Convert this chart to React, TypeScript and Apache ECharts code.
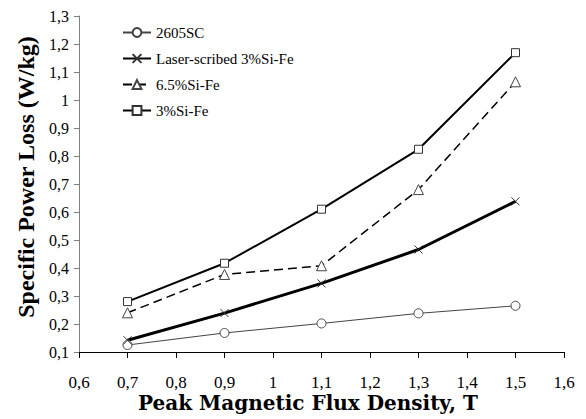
import React, { useEffect, useRef } from 'react';
import * as echarts from 'echarts';

const fluxDensity = [0.7, 0.9, 1.1, 1.3, 1.5];
const loss2605SC = [0.125, 0.168, 0.202, 0.238, 0.265];
const lossLaser = [0.142, 0.239, 0.345, 0.466, 0.638];
const loss65SiFe = [0.24, 0.377, 0.408, 0.68, 1.065];
const loss3SiFe = [0.28, 0.417, 0.61, 0.824, 1.169];
const seriesNames = ['2605SC', 'Laser-scribed 3%Si-Fe', '6.5%Si-Fe', '3%Si-Fe'];
const xTitle = 'Peak Magnetic Flux Density, T';
const yTitle = 'Specific Power Loss (W/kg)';

const fmt = (v: number) => String(Math.round(v * 10) / 10).replace('.', ',');
const pairs = (ys: number[]) => fluxDensity.map((x, i) => [x, ys[i]]);

export default function App() {
  const ref = useRef<HTMLDivElement>(null);
  useEffect(() => {
    if (!ref.current) return;
    const chart = echarts.init(ref.current, undefined, { renderer: 'svg' });
    const serif = 'Liberation Serif';
    chart.setOption({
      animation: false,
      backgroundColor: '#fff',
      grid: { left: 79, top: 16, right: 22, bottom: 67, containLabel: false },
      legend: {
        orient: 'vertical',
        left: 117,
        top: 20,
        itemWidth: 28,
        itemHeight: 11,
        itemGap: 11,
        data: seriesNames,
        textStyle: { fontFamily: serif, fontSize: 15, color: '#000' },
      },
      xAxis: {
        type: 'value',
        min: 0.6,
        max: 1.6,
        interval: 0.1,
        splitLine: { show: false },
        axisLine: { lineStyle: { color: '#000', width: 1 } },
        axisTick: { length: 6, lineStyle: { color: '#000' } },
        axisLabel: {
          formatter: fmt,
          fontFamily: serif,
          fontSize: 17,
          color: '#000',
          margin: 22,
        },
      },
      yAxis: {
        type: 'value',
        min: 0.1,
        max: 1.3,
        interval: 0.1,
        splitLine: { show: false },
        axisLine: { show: true, lineStyle: { color: '#808080', width: 1 } },
        axisTick: { show: true, length: 5, lineStyle: { color: '#808080' } },
        axisLabel: {
          formatter: fmt,
          fontFamily: serif,
          fontSize: 16,
          color: '#000',
          margin: 10,
        },
      },
      graphic: [
        {
          type: 'text',
          x: 308,
          y: 403,
          style: {
            text: xTitle,
            font: "bold 20px 'DejaVu Serif', serif",
            fill: '#000',
            align: 'center',
            verticalAlign: 'middle',
          },
        },
        {
          type: 'text',
          x: 26,
          y: 177,
          rotation: Math.PI / 2,
          style: {
            text: yTitle,
            font: "bold 24px 'Liberation Serif', serif",
            fill: '#000',
            align: 'center',
            verticalAlign: 'middle',
          },
        },
      ],
      series: [
        {
          name: seriesNames[0],
          type: 'line',
          data: pairs(loss2605SC),
          symbol: 'circle',
          symbolSize: 9,
          lineStyle: { color: '#444', width: 1 },
          itemStyle: { color: '#fff', borderColor: '#444', borderWidth: 1 },
        },
        {
          name: seriesNames[1],
          type: 'line',
          data: pairs(lossLaser),
          symbol: 'path://M0,0L10,10M10,0L0,10',
          symbolSize: 8,
          lineStyle: { color: '#000', width: 3 },
          itemStyle: { color: '#fff', borderColor: '#333', borderWidth: 1 },
        },
        {
          name: seriesNames[2],
          type: 'line',
          data: pairs(loss65SiFe),
          symbol: 'triangle',
          symbolSize: 10,
          lineStyle: { color: '#000', width: 1.5, type: [9, 5] },
          itemStyle: { color: '#fff', borderColor: '#444', borderWidth: 1 },
        },
        {
          name: seriesNames[3],
          type: 'line',
          data: pairs(loss3SiFe),
          symbol: 'rect',
          symbolSize: 8,
          lineStyle: { color: '#000', width: 2 },
          itemStyle: { color: '#fff', borderColor: '#333', borderWidth: 1 },
        },
      ],
    });
    return () => chart.dispose();
  }, []);
  return (
    <div
      ref={ref}
      style={{ position: 'fixed', left: 0, top: 0, width: 586, height: 419, background: '#fff' }}
    />
  );
}
